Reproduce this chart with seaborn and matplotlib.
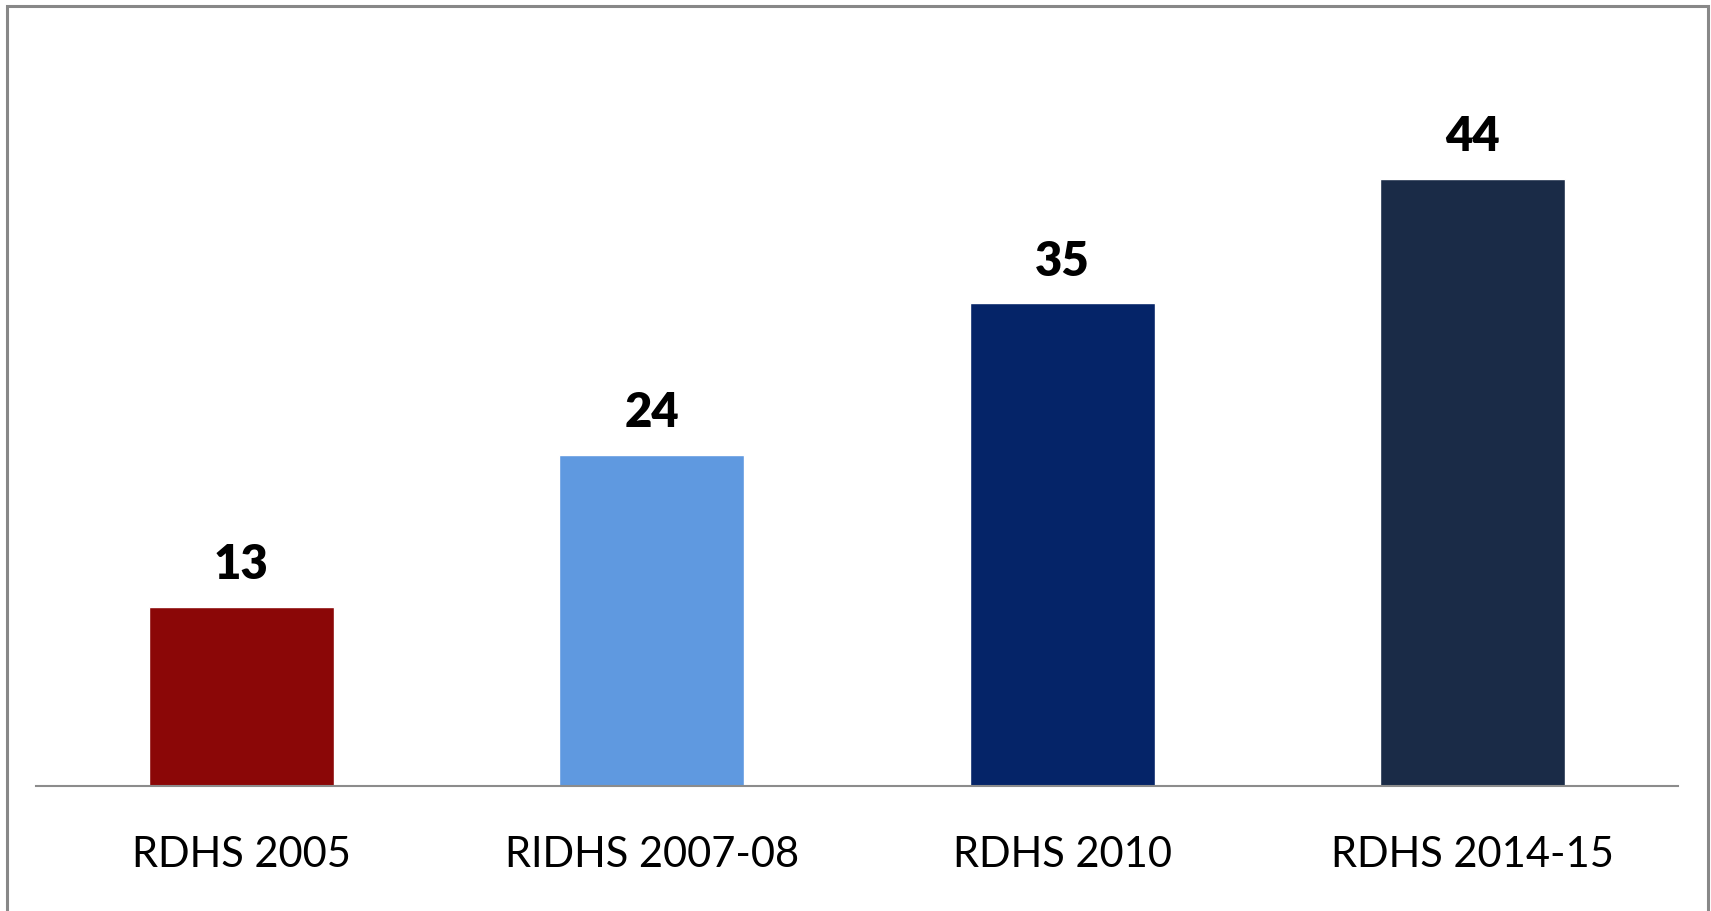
import matplotlib
matplotlib.use('Agg')
import matplotlib.pyplot as plt
import matplotlib.patches as patches
import seaborn as sns
import pandas as pd

sns.set_style('white')
plt.rcParams['font.family'] = ['Lato', 'DejaVu Sans']
plt.rcParams['text.color'] = 'black'

# data
surveys = ['RDHS 2005', 'RIDHS 2007-08', 'RDHS 2010', 'RDHS 2014-15']
values = [13, 24, 35, 44]
bar_colors = ['#8B0707', '#5F99E0', '#052468', '#1A2B47']

df = pd.DataFrame({'survey': surveys, 'value': values})

W, H = 1711, 911
fig = plt.figure(figsize=(W / 100, H / 100), dpi=100)
ax = fig.add_axes([36 / W, (H - 786) / H, (1678 - 36) / W, (786 - 96) / H])

sns.barplot(data=df, x='survey', y='value', hue='survey', palette=bar_colors,
            width=0.45, legend=False, saturation=1, ax=ax)

ax.set_ylim(0, 50)
ax.set_xlim(-0.5, 3.5)
ax.set_xlabel('')
ax.set_ylabel('')
ax.set_yticks([])
for s in ['top', 'right', 'left']:
    ax.spines[s].set_visible(False)
ax.spines['bottom'].set_color('#8c8c8c')
ax.spines['bottom'].set_linewidth(1.5)
ax.tick_params(axis='x', length=0, pad=36, labelsize=30, labelcolor='black')

for i, v in enumerate(values):
    ax.annotate(str(v), (i, v), xytext=(0, 14), textcoords='offset points',
                ha='center', va='bottom', fontsize=34, fontweight='heavy',
                color='black')

# outer frame
frame = patches.Rectangle((7 / W, -0.05), (1708 - 7) / W, 1.05 - 6 / H,
                          transform=fig.transFigure, fill=False,
                          edgecolor='#888888', linewidth=2.2, clip_on=False)
fig.patches.append(frame)

plt.savefig('out.png', dpi=100)
